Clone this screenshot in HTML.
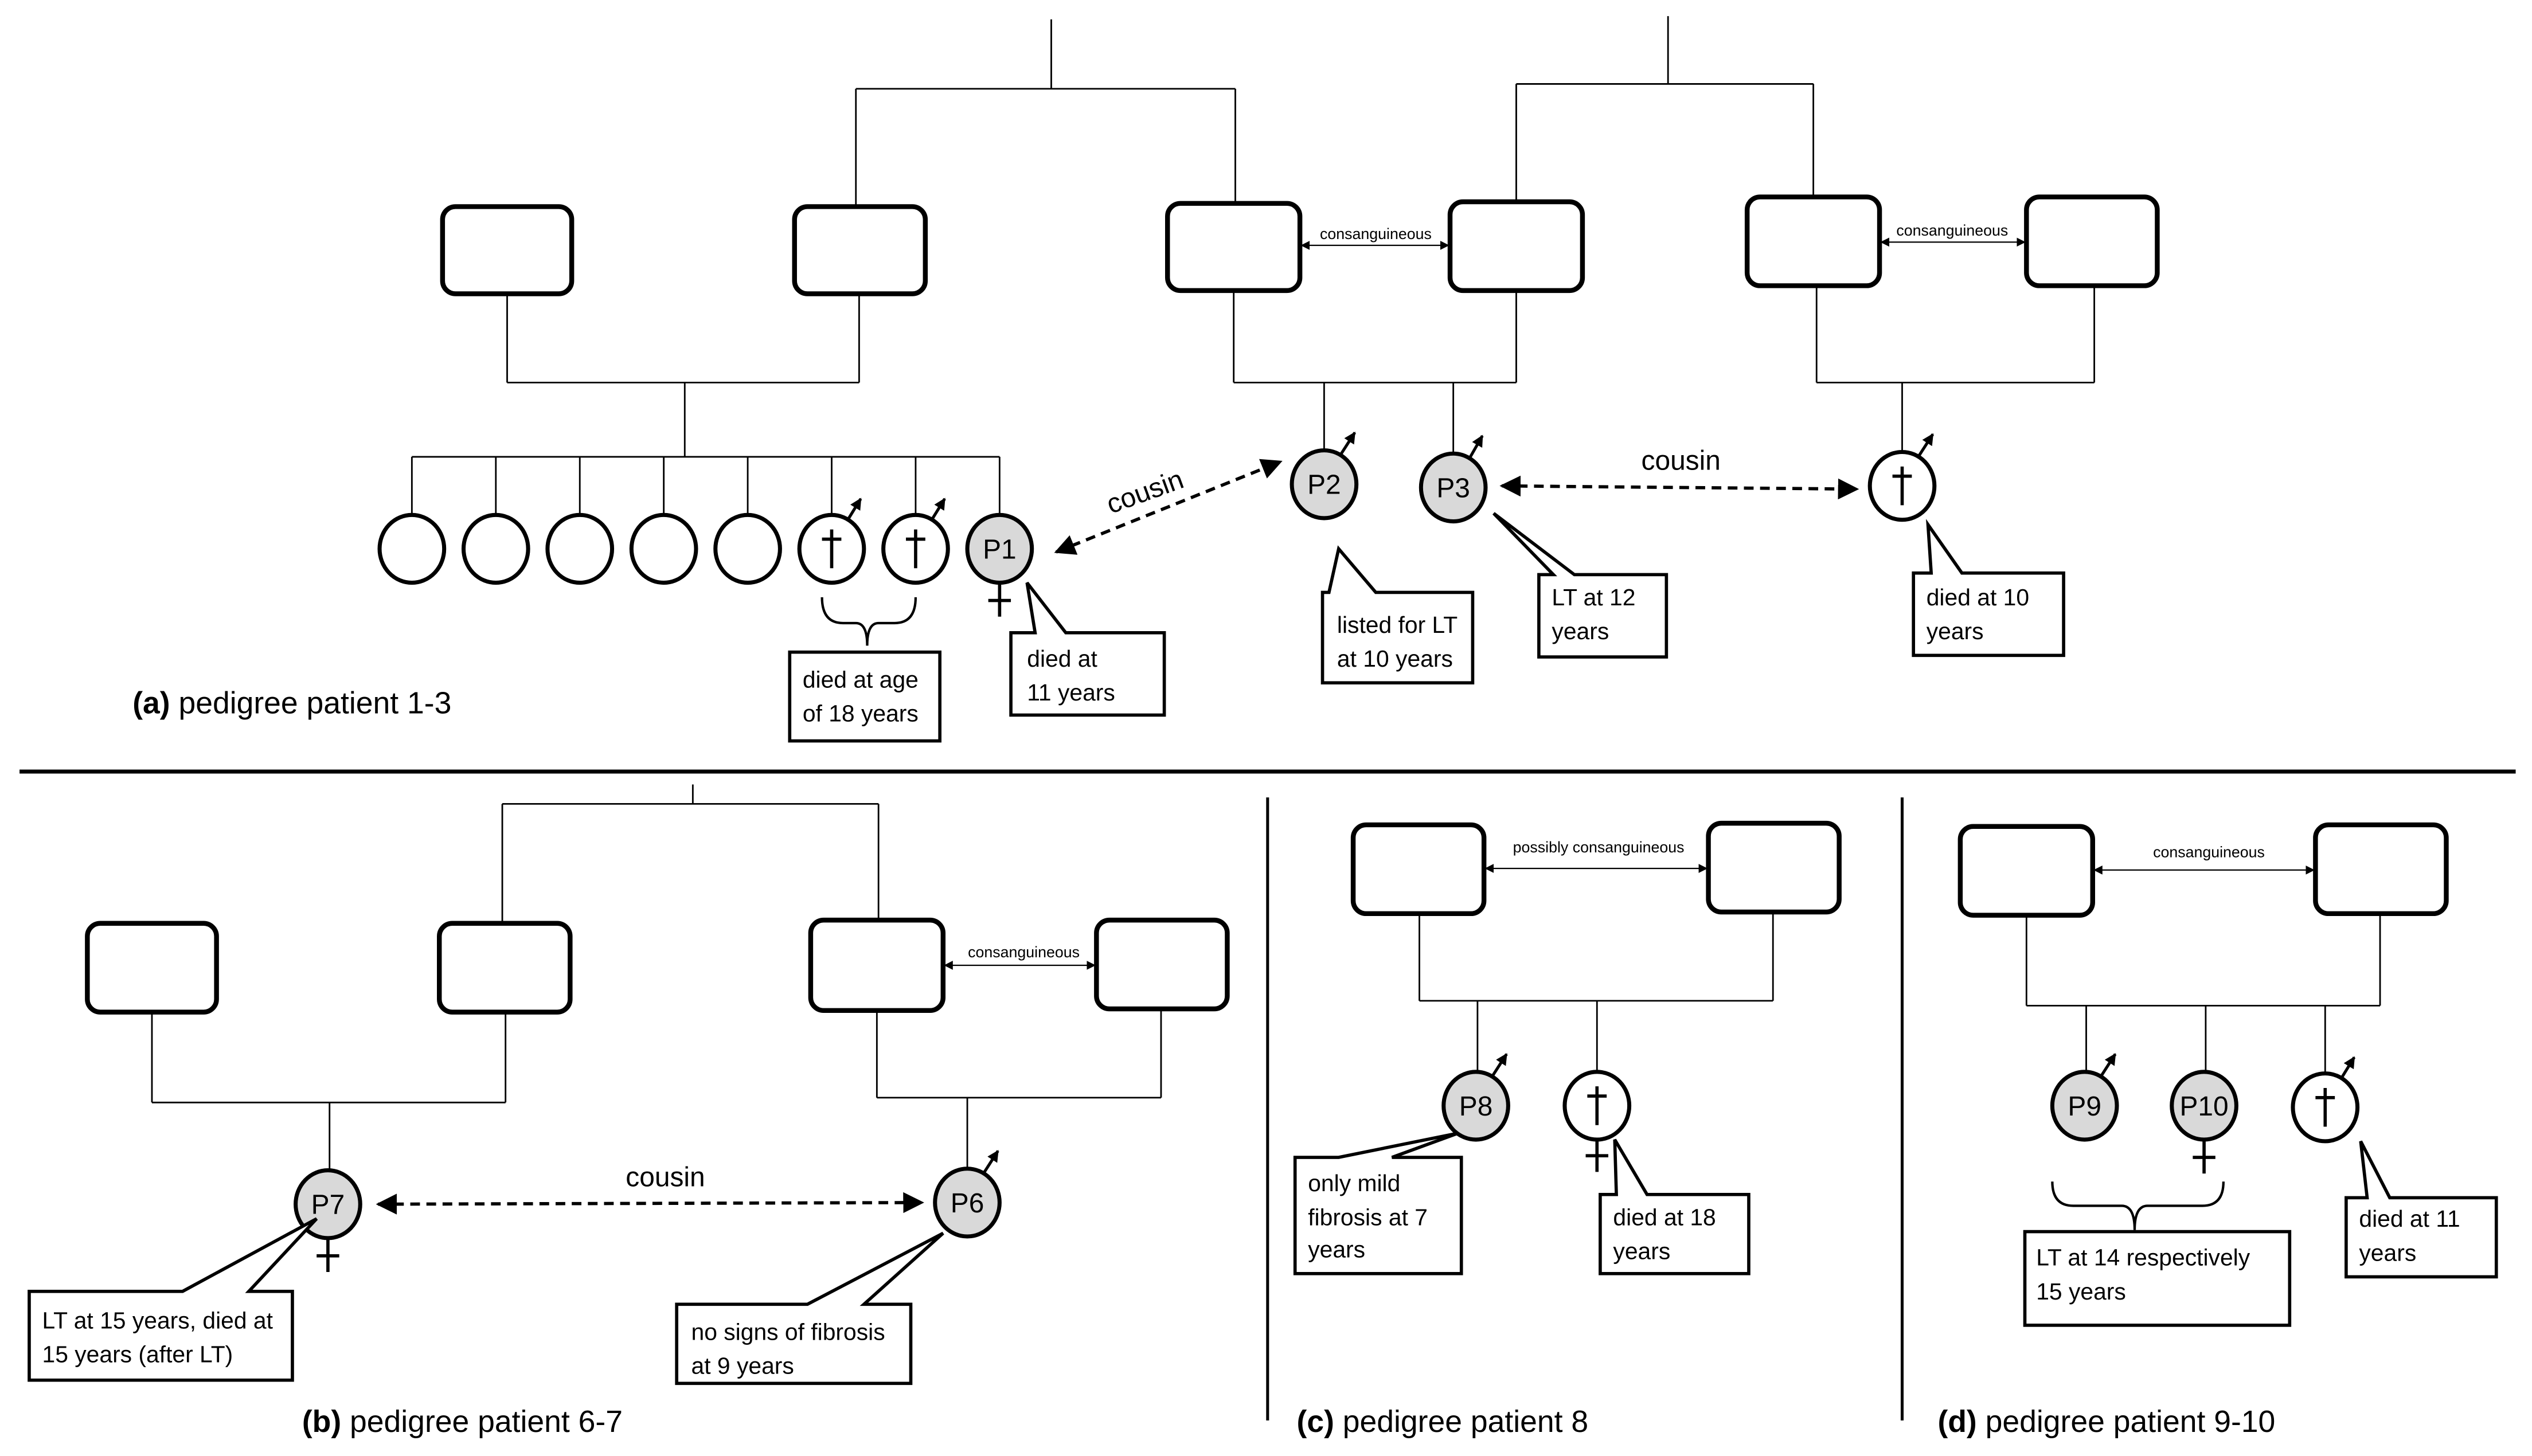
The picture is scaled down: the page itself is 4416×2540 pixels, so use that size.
<!DOCTYPE html>
<html><head><meta charset="utf-8"><style>html,body{margin:0;padding:0;background:#fff}svg{display:block}</style></head>
<body>
<svg width="4416" height="2540" viewBox="0 0 1568 902" xmlns="http://www.w3.org/2000/svg" font-family="Liberation Sans, sans-serif">
<defs>
<marker id="ah" viewBox="0 0 10 10" refX="9" refY="5" markerWidth="7" markerHeight="7" orient="auto-start-reverse"><path d="M0,0 L10,5 L0,10 z" fill="#000"/></marker>
<marker id="as" viewBox="0 0 10 10" refX="9" refY="5" markerWidth="6.5" markerHeight="6.5" orient="auto-start-reverse"><path d="M0,0 L10,5 L0,10 z" fill="#000"/></marker>
<marker id="am" viewBox="0 0 10 10" refX="9" refY="5" markerWidth="4" markerHeight="4" orient="auto"><path d="M0,0 L10,5 L0,10 z" fill="#000"/></marker>
</defs>
<rect width="1568" height="902" fill="#fff"/>
<g stroke="#000" stroke-width="1" fill="none">
<path d="M651,12V55M530,55H765M530,55V128M765,55V126"/>
<path d="M1033,10V52M939,52H1123M939,52V125M1123,52V122"/>
<path d="M314,182V237M532,182V237M314,237H532M424,237V283M255,283H619"/>
<path d="M255,283V320M307,283V320M359,283V320M411,283V320M463,283V320M515,283V320M567,283V320M619,283V320"/>
<path d="M764,180V237M939,180V237M764,237H939M820,237V280M900,237V282"/>
<path d="M1125,177V237M1297,177V237M1125,237H1297M1178,237V281"/>
<path d="M429,486V498M311,498H544M311,498V572M544,498V570"/>
<path d="M94,627V683M313,627V683M94,683H313M204,683V726"/>
<path d="M543,626V680M719,625V680M543,680H719M599,680V725"/>
<path d="M879,566V620M1098,565V620M879,620H1098M915,620V664M989,620V665"/>
<path d="M1255,567V623M1474,566V623M1255,623H1474M1292,623V665M1366,623V665M1440,623V666"/>
</g>
<g stroke="#000" stroke-width="3" fill="#fff">
<rect x="274" y="128" width="80" height="54" rx="8"/>
<rect x="492" y="128" width="81" height="54" rx="8"/>
<rect x="723" y="126" width="82" height="54" rx="8"/>
<rect x="898" y="125" width="82" height="55" rx="8"/>
<rect x="1082" y="122" width="82" height="55" rx="8"/>
<rect x="1255" y="122" width="81" height="55" rx="8"/>
<rect x="54" y="572" width="80" height="55" rx="8"/>
<rect x="272" y="572" width="81" height="55" rx="8"/>
<rect x="502" y="570" width="82" height="56" rx="8"/>
<rect x="679" y="570" width="81" height="55" rx="8"/>
<rect x="838" y="511" width="81" height="55" rx="8"/>
<rect x="1058" y="510" width="81" height="55" rx="8"/>
<rect x="1214" y="512" width="82" height="55" rx="8"/>
<rect x="1434" y="511" width="81" height="55" rx="8"/>
</g>
<g stroke="#000" stroke-width="0.8" fill="none">
<line x1="806" y1="152" x2="897" y2="152" marker-start="url(#ah)" marker-end="url(#ah)"/>
<line x1="1165" y1="150" x2="1254" y2="150" marker-start="url(#ah)" marker-end="url(#ah)"/>
<line x1="585" y1="598" x2="678" y2="598" marker-start="url(#ah)" marker-end="url(#ah)"/>
<line x1="920" y1="538" x2="1057" y2="538" marker-start="url(#ah)" marker-end="url(#ah)"/>
<line x1="1297" y1="539" x2="1433" y2="539" marker-start="url(#ah)" marker-end="url(#ah)"/>
</g>
<g font-size="9.5" text-anchor="middle" fill="#000">
<text x="852" y="148">consanguineous</text>
<text x="1209" y="146">consanguineous</text>
<text x="634" y="593">consanguineous</text>
<text x="990" y="528">possibly consanguineous</text>
<text x="1368" y="531">consanguineous</text>
</g>
<g stroke="#000" stroke-width="2.5">
<g fill="#fff">
<ellipse cx="255" cy="340" rx="20" ry="21"/><ellipse cx="307" cy="340" rx="20" ry="21"/><ellipse cx="359" cy="340" rx="20" ry="21"/><ellipse cx="411" cy="340" rx="20" ry="21"/><ellipse cx="463" cy="340" rx="20" ry="21"/><ellipse cx="515" cy="340" rx="20" ry="21"/><ellipse cx="567" cy="340" rx="20" ry="21"/>
<ellipse cx="1178" cy="301" rx="20" ry="21"/><ellipse cx="989" cy="685" rx="20" ry="21"/><ellipse cx="1440" cy="686" rx="20" ry="21"/>
</g>
<g fill="#d9d9d9">
<ellipse cx="619" cy="340" rx="20" ry="21"/><ellipse cx="820" cy="300" rx="20" ry="21"/><ellipse cx="900" cy="302" rx="20" ry="21"/>
<ellipse cx="203" cy="746" rx="20" ry="21"/><ellipse cx="599" cy="745" rx="20" ry="21"/>
<ellipse cx="914" cy="685" rx="20" ry="21"/><ellipse cx="1291" cy="685" rx="20" ry="21"/><ellipse cx="1365" cy="685" rx="20" ry="21"/>
</g>
</g>
<g stroke="#000" stroke-width="2" fill="none">
<path d="M515,328V352M509,334H521"/><path d="M567,328V352M561,334H573"/>
<path d="M1178,289V313M1172,295H1184"/><path d="M989,673V697M983,679H995"/><path d="M1440,674V698M1434,680H1446"/>
<path d="M619,361V382M612,372H626"/><path d="M203,767V788M196,778H210"/><path d="M989,706V726M982,716H996"/><path d="M1365,706V727M1358,717H1372"/>
</g>
<g stroke="#000" stroke-width="1.8" fill="none">
<line x1="525" y1="322" x2="533" y2="309" marker-end="url(#am)"/>
<line x1="577" y1="322" x2="585" y2="309" marker-end="url(#am)"/>
<line x1="830" y1="282" x2="839" y2="268" marker-end="url(#am)"/>
<line x1="910" y1="284" x2="918" y2="270" marker-end="url(#am)"/>
<line x1="1188" y1="283" x2="1197" y2="269" marker-end="url(#am)"/>
<line x1="609" y1="727" x2="618" y2="713" marker-end="url(#am)"/>
<line x1="924" y1="667" x2="933" y2="653" marker-end="url(#am)"/>
<line x1="1301" y1="667" x2="1310" y2="653" marker-end="url(#am)"/>
<line x1="1450" y1="668" x2="1458" y2="655" marker-end="url(#am)"/>
</g>
<g font-size="17" text-anchor="middle" fill="#000">
<text x="619" y="346">P1</text><text x="820" y="306">P2</text><text x="900" y="308">P3</text>
<text x="203" y="752">P7</text><text x="599" y="751">P6</text>
<text x="914" y="691">P8</text><text x="1291" y="691">P9</text><text x="1365" y="691">P10</text>
</g>
<g stroke="#000" stroke-width="2" stroke-dasharray="6,4" fill="none">
<line x1="654" y1="342" x2="793" y2="286" marker-start="url(#as)" marker-end="url(#as)"/>
<line x1="930" y1="301" x2="1150" y2="303" marker-start="url(#as)" marker-end="url(#as)"/>
<line x1="234" y1="746" x2="571" y2="745" marker-start="url(#as)" marker-end="url(#as)"/>
</g>
<g font-size="17" fill="#000" text-anchor="middle">
<text x="711" y="310" transform="rotate(-20 711 310)">cousin</text>
<text x="1041" y="291">cousin</text>
<text x="412" y="735">cousin</text>
</g>
<g stroke="#000" stroke-width="1.5" fill="none">
<path d="M509,370 Q509,386 522,386 L530,386 Q537,386 537,400 Q537,386 544,386 L554,386 Q567,386 567,370"/>
<path d="M1271,732 Q1271,747 1284,747 L1314,747 Q1322,747 1322,762 Q1322,747 1330,747 L1364,747 Q1377,747 1377,732"/>
</g>
<g stroke="#000" stroke-width="2" fill="#fff">
<rect x="489" y="404" width="93" height="55"/>
<polygon points="626,392 641,392 636,361 660,392 721,392 721,443 626,443"/>
<polygon points="819,367 823,367 829,340 852,367 912,367 912,423 819,423"/>
<polygon points="953,356 962,356 925,318 975,356 1032,356 1032,407 953,407"/>
<polygon points="1185,355 1196,355 1194,325 1215,355 1278,355 1278,406 1185,406"/>
<polygon points="18,800 113,800 196,755 154,800 181,800 181,855 18,855"/>
<polygon points="419,808 500,808 584,764 535,808 564,808 564,857 419,857"/>
<polygon points="802,717 829,717 903,702 862,717 905,717 905,789 802,789"/>
<polygon points="991,740 1001,740 1000,706 1020,740 1083,740 1083,789 991,789"/>
<rect x="1254" y="763" width="164" height="58"/>
<polygon points="1453,742 1466,742 1462,707 1480,742 1546,742 1546,791 1453,791"/>
</g>
<g font-size="14.5" fill="#000">
<text x="497" y="426">died at age</text><text x="497" y="447">of 18 years</text>
<text x="636" y="413">died at</text><text x="636" y="434">11 years</text>
<text x="828" y="392">listed for LT</text><text x="828" y="413">at 10 years</text>
<text x="961" y="375">LT at 12</text><text x="961" y="396">years</text>
<text x="1193" y="375">died at 10</text><text x="1193" y="396">years</text>
<text x="26" y="823">LT at 15 years, died at</text><text x="26" y="844">15 years (after LT)</text>
<text x="428" y="830">no signs of fibrosis</text><text x="428" y="851">at 9 years</text>
<text x="810" y="738">only mild</text><text x="810" y="759">fibrosis at 7</text><text x="810" y="779">years</text>
<text x="999" y="759">died at 18</text><text x="999" y="780">years</text>
<text x="1261" y="784">LT at 14 respectively</text><text x="1261" y="805">15 years</text>
<text x="1461" y="760">died at 11</text><text x="1461" y="781">years</text>
</g>
<line x1="12" y1="478" x2="1558" y2="478" stroke="#000" stroke-width="2.5"/>
<line x1="785" y1="494" x2="785" y2="880" stroke="#000" stroke-width="1.8"/>
<line x1="1178" y1="494" x2="1178" y2="880" stroke="#000" stroke-width="1.8"/>
<g font-size="19" fill="#000">
<text x="82" y="442"><tspan font-weight="bold">(a)</tspan> pedigree patient 1-3</text>
<text x="187" y="887"><tspan font-weight="bold">(b)</tspan> pedigree patient 6-7</text>
<text x="803" y="887"><tspan font-weight="bold">(c)</tspan> pedigree patient 8</text>
<text x="1200" y="887"><tspan font-weight="bold">(d)</tspan> pedigree patient 9-10</text>
</g>
</svg>
</body></html>
